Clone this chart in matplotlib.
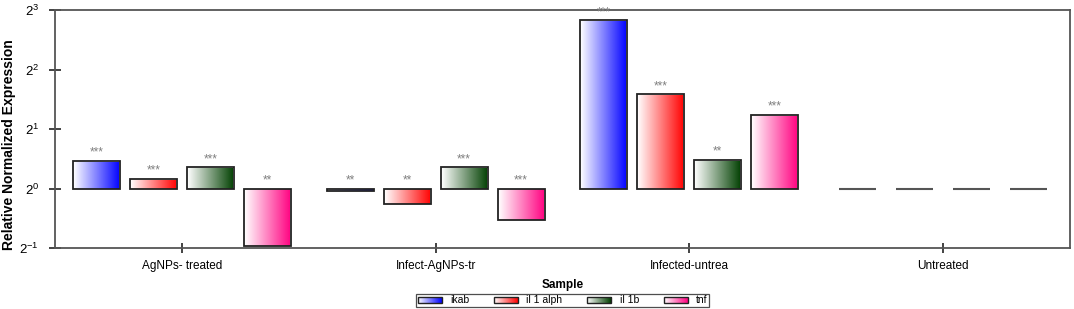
import numpy as np
import matplotlib
matplotlib.use("Agg")
import matplotlib.pyplot as plt
from matplotlib.patches import Rectangle
from matplotlib.legend_handler import HandlerBase
from matplotlib.colors import LinearSegmentedColormap, to_rgb

plt.rcParams['font.family'] = ['Liberation Sans', 'DejaVu Sans']
plt.rcParams['mathtext.fontset'] = 'custom'
plt.rcParams['mathtext.rm'] = 'Liberation Sans'
plt.rcParams['mathtext.default'] = 'regular'

samples = ["AgNPs- treated", "Infect-AgNPs-tr", "Infected-untrea", "Untreated"]
genes = ["ikab", "il 1 alph", "il 1b", "tnf"]
# relative normalized expression (fold change)
ikab = [1.38, 0.97, 7.1, 1.0]
il1alph = [1.12, 0.83, 3.0, 1.0]
il1b = [1.28, 1.28, 1.40, 1.0]
tnf = [0.51, 0.69, 2.36, 1.0]
sig_ikab = ["***", "**", "***", ""]
sig_il1alph = ["***", "**", "***", ""]
sig_il1b = ["***", "***", "**", ""]
sig_tnf = ["**", "***", "***", ""]

series = [ikab, il1alph, il1b, tnf]
sigs = [sig_ikab, sig_il1alph, sig_il1b, sig_tnf]
colors = ["#0000ff", "#ff0000", "#003f00", "#ff0080"]

fig = plt.figure(figsize=(10.74, 3.09), dpi=100)
ax = fig.add_axes([0.0512, 0.1974, 0.9451, 0.7702])
ax.set_yscale('log', base=2)
ax.set_ylim(0.5, 8)
ax.set_xlim(-0.5, 3.5)

width = 0.185
offsets = [-0.337, -0.112, 0.112, 0.337]
grad = np.linspace(0, 1, 256).reshape(1, -1)

for si, (vals, sg, col) in enumerate(zip(series, sigs, colors)):
    cmap = LinearSegmentedColormap.from_list("g%d" % si, ["#ffffff", col])
    x = np.arange(len(samples)) + offsets[si]
    bars = ax.bar(x, np.array(vals) - 1, bottom=1, width=width,
                  facecolor='none', edgecolor='#222222', linewidth=1.3, zorder=3)
    for b, v, s in zip(bars, vals, sg):
        if abs(v - 1) < 1e-9:
            b.set_visible(False)
            x0 = b.get_x()
            ax.hlines(1, x0 + 0.02, x0 + width - 0.02, color='#555555',
                      linewidth=1.5, zorder=3)
            continue
        x0 = b.get_x()
        lo, hi = min(1, v), max(1, v)
        im = ax.imshow(grad, cmap=cmap, aspect='auto',
                       extent=[x0, x0 + width, lo, hi], zorder=2,
                       interpolation='bilinear')
        im.set_clip_path(b)
        ax.annotate(s, (x0 + width / 2, hi), xytext=(0, 1.5),
                    textcoords='offset points', ha='center', va='bottom',
                    fontsize=8.5, color='#808080', zorder=5)

ax.set_xlim(-0.5, 3.5)
ax.set_ylim(0.5, 8)
ax.set_xticks(range(len(samples)))
ax.set_xticklabels(samples, fontsize=8.5)
ax.set_yticks([0.5, 1, 2, 4, 8])
ax.set_yticklabels([r'$2^{-1}$', r'$2^{0}$', r'$2^{1}$', r'$2^{2}$', r'$2^{3}$'], fontsize=9.5)
ax.minorticks_off()
ax.tick_params(axis='y', direction='inout', length=9, width=1.2, color='#222222', pad=7)
ax.tick_params(axis='x', direction='inout', length=7, width=1.2, color='#222222', pad=5)
for sp in ax.spines.values():
    sp.set_color('#555555')
    sp.set_linewidth(1.3)
ax.set_ylabel("Relative Normalized Expression", fontsize=10, fontweight='bold')
ax.yaxis.set_label_coords(-0.038, 0.433)
ax.set_xlabel("Sample", fontsize=8.5, fontweight='bold', labelpad=5)


class GradHandler(HandlerBase):
    def __init__(self, color):
        super().__init__()
        self.color = color

    def create_artists(self, legend, orig_handle, xdescent, ydescent, width,
                       height, fontsize, trans):
        arts = []
        c = np.array(to_rgb(self.color))
        n = 24
        for i in range(n):
            f = (i + 0.5) / n
            rgb = (1 - f) * np.ones(3) + f * c
            r = Rectangle((-xdescent + width * i / n, -ydescent + height * 0.15),
                          width / n + 0.3, height * 0.7, facecolor=rgb,
                          edgecolor='none', transform=trans)
            arts.append(r)
        arts.append(Rectangle((-xdescent, -ydescent + height * 0.15), width,
                              height * 0.7, facecolor='none', edgecolor='#222222',
                              linewidth=1.0, transform=trans))
        return arts


handles = [Rectangle((0, 0), 1, 1) for _ in genes]
hmap = {h: GradHandler(c) for h, c in zip(handles, colors)}
leg = fig.legend(handles, genes, handler_map=hmap, loc='center',
                 bbox_to_anchor=(0.524, 0.0285), ncol=4, fontsize=7.5,
                 frameon=True, fancybox=False, edgecolor='#222222',
                 handlelength=2.3, handleheight=0.9, handletextpad=0.8,
                 columnspacing=2.4, borderpad=0.15, borderaxespad=0)
leg.get_frame().set_linewidth(0.9)

fig.savefig("out.png", dpi=100)
